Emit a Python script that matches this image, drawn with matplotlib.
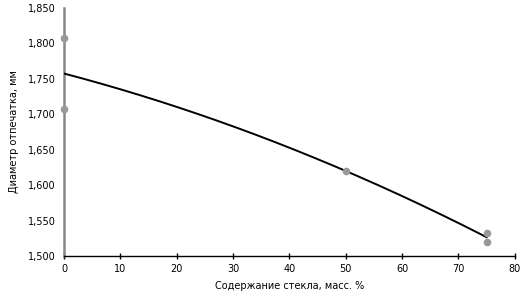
import numpy as np
import matplotlib
matplotlib.use("Agg")
import matplotlib.pyplot as plt
from matplotlib.ticker import FuncFormatter

# measured points
glass_pct = [0, 0, 50, 75, 75]
diameter_mm = [1.808, 1.707, 1.620, 1.533, 1.520]

x_ticks = [0, 10, 20, 30, 40, 50, 60, 70, 80]
y_ticks = [1.500, 1.550, 1.600, 1.650, 1.700, 1.750, 1.800, 1.850]

plt.rcParams["font.family"] = ["DejaVu Sans"]

fig = plt.figure(figsize=(5.26, 3.01), dpi=100)
ax = fig.add_axes([0.1217, 0.1495, 0.857, 0.824])

# polynomial (2nd order) trendline like the spreadsheet one
coef = np.polyfit(glass_pct, diameter_mm, 2)
xs = np.linspace(0, 75, 200)
ax.plot(xs, np.polyval(coef, xs), color="black", lw=1.4, zorder=4)

ax.plot(glass_pct, diameter_mm, "o", color="#999999", ms=5.5, mec="none",
        zorder=5, clip_on=False)

ax.set_xlim(0, 80)
ax.set_ylim(1.5, 1.85)
ax.set_xticks(x_ticks)
ax.set_yticks(y_ticks)
ax.yaxis.set_major_formatter(FuncFormatter(lambda v, _: f"{v:.3f}".replace(".", ",")))

for s in ("top", "right"):
    ax.spines[s].set_visible(False)
ax.spines["left"].set_color("#888888")
ax.spines["left"].set_linewidth(1.8)
ax.spines["bottom"].set_color("black")
ax.spines["bottom"].set_linewidth(1.0)

ax.tick_params(axis="x", direction="inout", length=5, width=1, labelsize=7, pad=3)
ax.tick_params(axis="y", length=0, labelsize=7, pad=6)

ax.set_xlabel("Содержание стекла, масс. %", fontsize=7, labelpad=5)
ax.set_ylabel("Диаметр отпечатка, мм", fontsize=7, labelpad=6)

fig.savefig("out.png", dpi=100)
